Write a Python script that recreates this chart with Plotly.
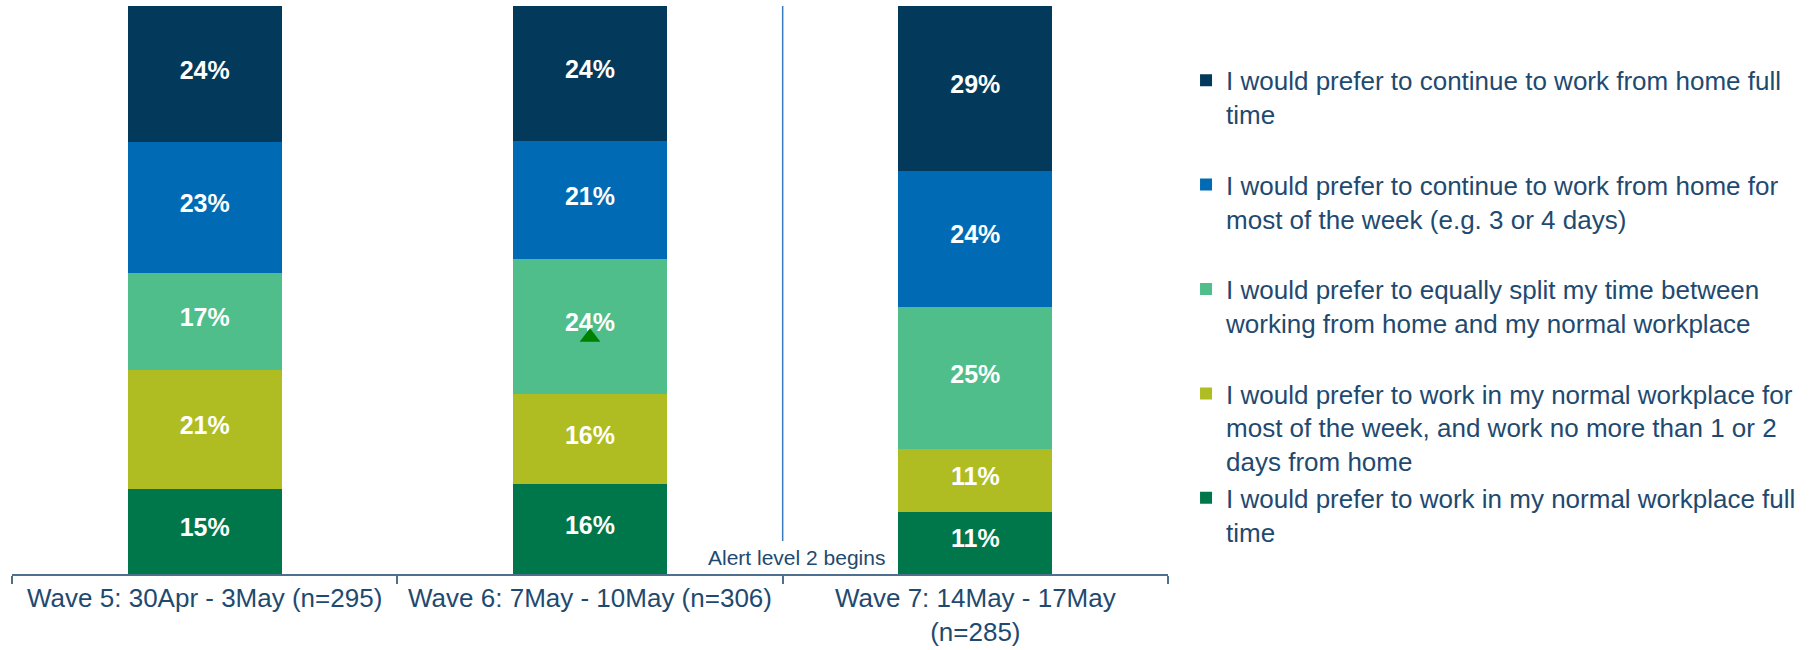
import plotly.graph_objects as go

# ---- data ----
categories = [
    "Wave 5: 30Apr - 3May (n=295)",
    "Wave 6: 7May - 10May (n=306)",
    "Wave 7: 14May - 17May<br>(n=285)",
]
series_names = [
    "I would prefer to work in my normal workplace full<br>time",
    "I would prefer to work in my normal workplace for<br>most of the week, and work no more than 1 or 2<br>days from home",
    "I would prefer to equally split my time between<br>working from home and my normal workplace",
    "I would prefer to continue to work from home for<br>most of the week (e.g. 3 or 4 days)",
    "I would prefer to continue to work from home full<br>time",
]
office_full = [15, 16, 11]
office_most = [21, 16, 11]
equal_split = [17, 24, 25]
home_most = [23, 21, 24]
home_full = [24, 24, 29]
series_values = [office_full, office_most, equal_split, home_most, home_full]
series_colors = ["#00774a", "#b0bd22", "#4fbe8a", "#006bb4", "#03395a"]

# significant increase marker (Wave 6, equal split)
sig_category = [categories[1]]
sig_value = [41.7]

alert_text = "Alert level 2 begins"

text_color = "#1f4a70"
font_family = "Arial, Liberation Sans, sans-serif"
label_lift = 0.3  # labels sit slightly above segment centre, as in the original

fig = go.Figure()
for name, vals, col in zip(series_names, series_values, series_colors):
    # pad legend labels to three lines so entries are evenly spaced
    n_lines = name.count("<br>") + 1
    legend_name = name + "<br>\u00a0" * (3 - n_lines)
    fig.add_trace(go.Bar(
        x=categories, y=vals, name=legend_name,
        marker=dict(color=col, line=dict(width=0)),
        hoverinfo="skip",
    ))

# data labels (white, bold) at the middle of each stacked segment
totals = [sum(s[i] for s in series_values) for i in range(len(categories))]
base = [0] * len(categories)
for vals in series_values:
    mids = [(base[i] + vals[i] / 2) * 100 / totals[i] + label_lift for i in range(len(categories))]
    fig.add_trace(go.Scatter(
        x=categories, y=mids, mode="text", text=[f"{v}%" for v in vals],
        textposition="middle center",
        textfont=dict(color="white", size=25, family=font_family, weight="bold"),
        showlegend=False, hoverinfo="skip",
    ))
    base = [base[i] + vals[i] for i in range(len(categories))]

fig.add_trace(go.Scatter(
    x=sig_category, y=sig_value, mode="markers",
    marker=dict(symbol="triangle-up", size=18, color="#008000"),
    showlegend=False, hoverinfo="skip",
))

fig.add_shape(type="line", xref="x", yref="y", x0=1.5, x1=1.5, y0=5.8, y1=100,
              line=dict(color="#3a7bbf", width=1.5))
fig.add_annotation(x=1.535, y=2.9, xref="x", yref="y", text=alert_text,
                   showarrow=False, xanchor="center", yanchor="middle",
                   font=dict(size=21, color=text_color, family=font_family))

fig.update_layout(
    width=1819, height=650,
    barmode="stack", barnorm="percent", bargap=0.6,
    plot_bgcolor="white", paper_bgcolor="white",
    margin=dict(l=12, r=651, t=6, b=76, autoexpand=False),
    font=dict(family=font_family, color=text_color),
    showlegend=True,
    legend=dict(
        x=1.0156, y=0.9106, xanchor="left", yanchor="top",
        traceorder="reversed", valign="top", tracegroupgap=0,
        font=dict(size=26, color=text_color, family=font_family),
        bgcolor="rgba(0,0,0,0)",
    ),
    xaxis=dict(
        type="category", range=[-0.5, 2.5], showline=True, linecolor="#4f6f8f", linewidth=1.5,
        ticks="outside", tickson="boundaries", ticklen=8, tickcolor="#4f6f8f", tickwidth=1.5,
        tickangle=0, showgrid=False, zeroline=False,
        tickfont=dict(size=26, color=text_color, family=font_family),
    ),
    yaxis=dict(range=[0, 100], visible=False, showgrid=False, zeroline=False),
)

fig.write_html("out.html")
